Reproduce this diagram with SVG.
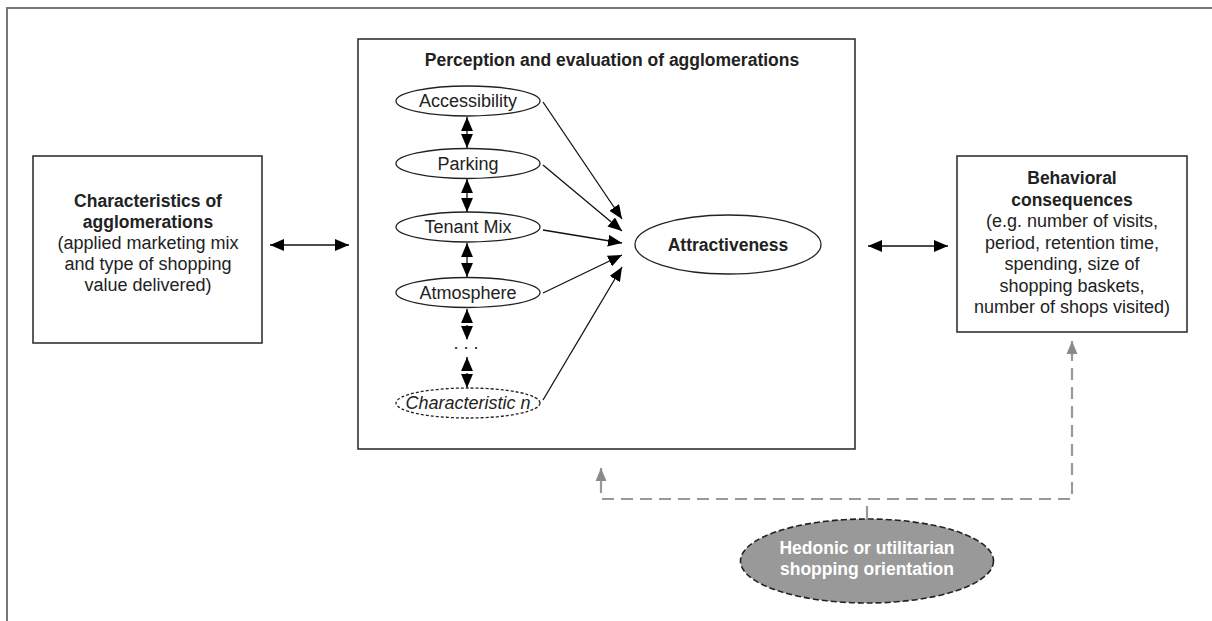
<svg xmlns="http://www.w3.org/2000/svg" width="1212" height="621" viewBox="0 0 1212 621">
<style>
.box{fill:#fff;stroke:#333;stroke-width:1.6}
.ell{fill:#fff;stroke:#222;stroke-width:1.3}
.t{font-family:"Liberation Sans",Arial,sans-serif;font-size:18px;fill:#222;text-anchor:middle}
.b{font-weight:bold;font-size:17.5px}
.c{stroke:#111;stroke-width:1.3;fill:none}
.g{stroke:#999;stroke-width:2.2;fill:none}
</style>
<defs>
<marker id="ah" markerUnits="userSpaceOnUse" markerWidth="14" markerHeight="12" refX="13" refY="5.5" orient="auto-start-reverse" viewBox="0 0 13 11">
<path d="M0,0 L13,5.5 L0,11 z" fill="#000"/>
</marker>
<marker id="gh" markerUnits="userSpaceOnUse" markerWidth="13" markerHeight="12" refX="12" refY="5" orient="auto" viewBox="0 0 12 10">
<path d="M0,0 L12,5 L0,10 z" fill="#8a8a8a"/>
</marker>
</defs>
<rect width="1212" height="621" fill="#fff"/>
<path d="M7,621 V8 H1212" fill="none" stroke="#777" stroke-width="2"/>

<g id="characteristics">
<rect class="box" x="33" y="156" width="229" height="187"/>
<text class="t b" x="148" y="207">Characteristics of</text>
<text class="t b" x="148" y="228">agglomerations</text>
<text class="t" x="148" y="249">(applied marketing mix</text>
<text class="t" x="148" y="270">and type of shopping</text>
<text class="t" x="148" y="291">value delivered)</text>
</g>

<g id="perception">
<rect class="box" x="358" y="39" width="497" height="410"/>
<text class="t b" x="612" y="66">Perception and evaluation of agglomerations</text>
</g>

<g id="accessibility">
<ellipse class="ell" cx="468" cy="101" rx="72" ry="15"/>
<text class="t" x="468" y="107">Accessibility</text>
</g>
<g id="parking">
<ellipse class="ell" cx="468" cy="163.5" rx="72" ry="15"/>
<text class="t" x="468" y="169.5">Parking</text>
</g>
<g id="tenantmix">
<ellipse class="ell" cx="468" cy="227" rx="72" ry="15"/>
<text class="t" x="468" y="233">Tenant Mix</text>
</g>
<g id="atmosphere">
<ellipse class="ell" cx="468" cy="292.5" rx="72" ry="15"/>
<text class="t" x="468" y="298.5">Atmosphere</text>
</g>
<g id="dots">
<text class="t" x="466" y="349">. . .</text>
</g>
<g id="characteristicn">
<ellipse class="ell" cx="468" cy="403" rx="72" ry="15" stroke-dasharray="3,2"/>
<text class="t" x="468" y="409" font-style="italic">Characteristic n</text>
</g>

<g id="attractiveness">
<ellipse class="ell" cx="728" cy="244.5" rx="93" ry="29.5"/>
<text class="t b" x="728" y="251">Attractiveness</text>
</g>

<g id="behavioral">
<rect class="box" x="957" y="156" width="230" height="176"/>
<text class="t b" x="1072" y="184">Behavioral</text>
<text class="t b" x="1072" y="205.5">consequences</text>
<text class="t" x="1072" y="227">(e.g. number of visits,</text>
<text class="t" x="1072" y="248.5">period, retention time,</text>
<text class="t" x="1072" y="270">spending, size of</text>
<text class="t" x="1072" y="291.5">shopping baskets,</text>
<text class="t" x="1072" y="313">number of shops visited)</text>
</g>

<g id="orientation">
<ellipse cx="867" cy="561" rx="126.5" ry="42" fill="#999" stroke="#222" stroke-width="1.6" stroke-dasharray="6,3"/>
<text class="t b" x="867" y="554" style="fill:#fff">Hedonic or utilitarian</text>
<text class="t b" x="867" y="575" style="fill:#fff">shopping orientation</text>
</g>

<g id="connectors">
<line class="c" x1="270" y1="245" x2="349" y2="245" marker-start="url(#ah)" marker-end="url(#ah)"/>
<line class="c" x1="868" y1="246" x2="948" y2="246" marker-start="url(#ah)" marker-end="url(#ah)"/>
<line class="c" x1="467" y1="117" x2="467" y2="148" marker-start="url(#ah)" marker-end="url(#ah)"/>
<line class="c" x1="467" y1="179" x2="467" y2="212" marker-start="url(#ah)" marker-end="url(#ah)"/>
<line class="c" x1="467" y1="243" x2="467" y2="277" marker-start="url(#ah)" marker-end="url(#ah)"/>
<line class="c" x1="467" y1="309" x2="467" y2="340" stroke-dasharray="2,2" marker-start="url(#ah)" marker-end="url(#ah)"/>
<line class="c" x1="467" y1="357" x2="467" y2="388" stroke-dasharray="2,2" marker-start="url(#ah)" marker-end="url(#ah)"/>
<line class="c" x1="543" y1="102" x2="622" y2="219" marker-end="url(#ah)"/>
<line class="c" x1="543" y1="165" x2="622" y2="231" marker-end="url(#ah)"/>
<line class="c" x1="543" y1="230" x2="622" y2="243" marker-end="url(#ah)"/>
<line class="c" x1="543" y1="293" x2="622" y2="255" marker-end="url(#ah)"/>
<line class="c" x1="543" y1="400" x2="622" y2="267" marker-end="url(#ah)"/>
<path class="g" d="M602,499 H1072 V353" stroke-dasharray="12,7"/>
<line class="g" x1="1072" y1="356" x2="1072" y2="341" stroke-width="2" marker-end="url(#gh)"/>
<line class="g" x1="601" y1="493" x2="601" y2="468" stroke-width="2" marker-end="url(#gh)"/>
<line class="g" x1="867" y1="506" x2="867" y2="519" stroke-width="2" stroke="#777"/>
</g>
</svg>
